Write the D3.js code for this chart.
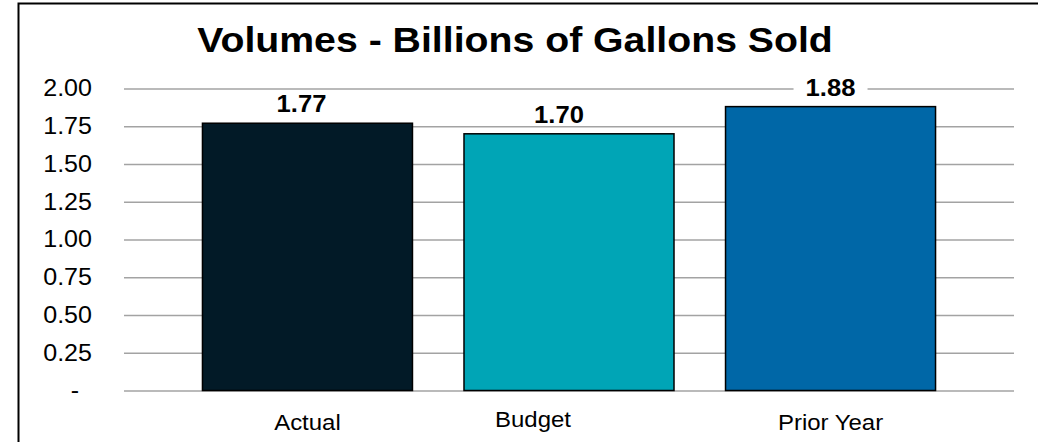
<!DOCTYPE html>
<html>
<head>
<meta charset="utf-8">
<script src="https://cdn.jsdelivr.net/npm/d3@7/dist/d3.min.js"></script>
<style>
  html, body { margin: 0; padding: 0; background: #fff; }
  svg { display: block; font-family: "Liberation Sans", Arial, sans-serif; }
</style>
</head>
<body>
<svg id="chart" width="1038" height="442"></svg>
<script>
// Volumes by scenario, billions of gallons
const categories = ["Actual", "Budget", "Prior Year"];
const volumes = [1.77, 1.70, 1.88];
const barColors = ["#021a27", "#00a5b6", "#0067a7"];
const tickValues = [0, 0.25, 0.5, 0.75, 1.0, 1.25, 1.5, 1.75, 2.0];
const titleText = "Volumes - Billions of Gallons Sold";

// text is set slightly wide
const SX = 1.09;
const wide = (px, py) => `translate(${px},${py}) scale(${SX},1)`;

const svg = d3.select("#chart");

// outer frame (runs off the right and bottom edges)
svg.append("rect")
  .attr("x", 18.5).attr("y", 3.5)
  .attr("width", 1100).attr("height", 500)
  .attr("fill", "none").attr("stroke", "#000").attr("stroke-width", 2);

svg.append("text")
  .attr("transform", wide(515, 52))
  .attr("text-anchor", "middle")
  .attr("font-size", 36).attr("font-weight", "bold")
  .attr("fill", "#000")
  .text(titleText);

const y = d3.scaleLinear().domain([0, 2]).range([390.5, 88.5]);
const x = d3.scaleBand().domain(categories).range([124, 1014])
  .paddingInner(0.197).paddingOuter(0.3);

// gridlines + y labels via axis
const yAxis = d3.axisLeft(y)
  .tickValues(tickValues)
  .tickSize(-(1014 - 124))
  .tickPadding(32)
  .tickFormat(d => d === 0 ? "-" : d3.format(".2f")(d));

const gy = svg.append("g").attr("transform", "translate(124,0)").call(yAxis);
gy.select(".domain").remove();
gy.selectAll(".tick line").attr("stroke", "#a3a3a3").attr("stroke-width", 1.6);
gy.selectAll(".tick text")
  .attr("x", 0)
  .attr("transform", d => wide(d === 0 ? -45 : -32, 0))
  .attr("font-size", 23).attr("fill", "#000")
  .attr("font-family", "Liberation Sans, Arial, sans-serif");

// bars
svg.append("g").selectAll("rect")
  .data(categories)
  .join("rect")
  .attr("x", d => x(d))
  .attr("y", (d, i) => y(volumes[i]))
  .attr("width", x.bandwidth())
  .attr("height", (d, i) => y(0) - y(volumes[i]))
  .attr("fill", (d, i) => barColors[i])
  .attr("stroke", "#000").attr("stroke-width", 1.5);

// value labels with white backing (small horizontal nudges per label)
const valueNudge = { "Actual": -6, "Budget": -10 };
const lbl = svg.append("g").selectAll("g")
  .data(categories)
  .join("g")
  .attr("transform", (d, i) =>
    `translate(${x(d) + x.bandwidth() / 2 + (valueNudge[d] || 0)},${y(volumes[i]) - 11})`);

lbl.append("rect")
  .attr("x", -37).attr("y", -21)
  .attr("width", 74).attr("height", 24)
  .attr("fill", "#fff");

lbl.append("text")
  .attr("transform", wide(0, 0))
  .attr("text-anchor", "middle")
  .attr("font-size", 23.5).attr("font-weight", "bold")
  .attr("fill", "#000")
  .text((d, i) => d3.format(".2f")(volumes[i]));

// category labels
const labelNudge = { "Budget": { dx: -36, dy: -3 } };
svg.append("g").selectAll("text")
  .data(categories)
  .join("text")
  .attr("transform", d => wide(
    x(d) + x.bandwidth() / 2 + ((labelNudge[d] || {}).dx || 0),
    430 + ((labelNudge[d] || {}).dy || 0)))
  .attr("text-anchor", "middle")
  .attr("font-size", 22).attr("fill", "#000")
  .text(d => d);
</script>
</body>
</html>
